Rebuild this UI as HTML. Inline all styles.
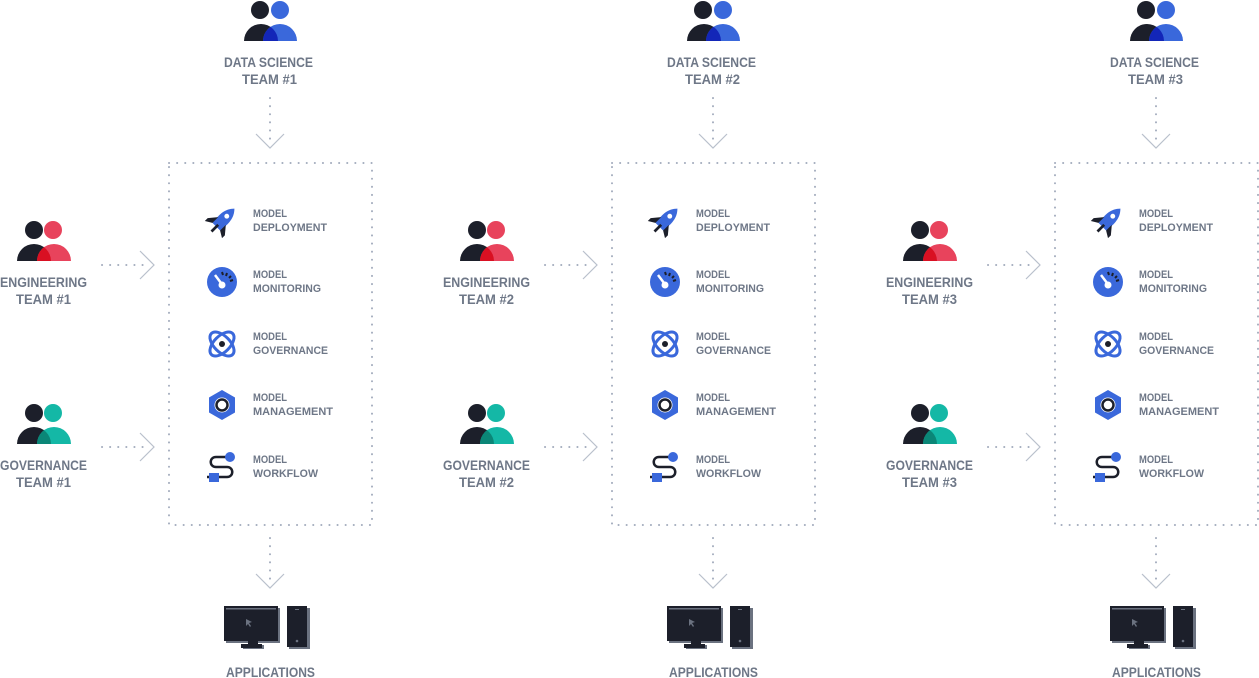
<!DOCTYPE html>
<html><head><meta charset="utf-8"><style>
html,body{margin:0;padding:0;background:#fff;width:1259px;height:678px;overflow:hidden}
svg{display:block}
text{font-family:"Liberation Sans",sans-serif;font-weight:bold;fill:#6e7787}
.lb{font-size:13.5px}
.it{font-size:11px}
.dot{stroke:#a3acbd;stroke-width:2;stroke-dasharray:0.1 8;stroke-linecap:round;fill:none}
.chev{stroke:#b9c0cc;stroke-width:1.2;fill:none}
</style></head><body>
<svg width="1259" height="678" viewBox="0 0 1259 678" xmlns="http://www.w3.org/2000/svg">
<defs>
<clipPath id="cl1"><path d="M244,41 A17,17 0 0 1 278,41 Z"/></clipPath>
<clipPath id="cl2"><path d="M17,261 A17,17 0 0 1 51,261 Z"/></clipPath>
<clipPath id="cl3"><path d="M17,444 A17,17 0 0 1 51,444 Z"/></clipPath>
<g id="panel">
  <circle cx="260" cy="10" r="9" fill="#1c1f2a"/>
  <circle cx="280" cy="10" r="9" fill="#3a68db"/>
  <path d="M244,41 A17,17 0 0 1 278,41 Z" fill="#1c1f2a"/>
  <path d="M263,41 A17,17 0 0 1 297,41 Z" fill="#3a68db"/>
  <path d="M263,41 A17,17 0 0 1 297,41 Z" fill="#1326b8" clip-path="url(#cl1)"/>
  <text class="lb" x="224" y="67" textLength="89" lengthAdjust="spacingAndGlyphs">DATA SCIENCE</text>
  <line class="dot" x1="270" y1="98" x2="270" y2="142"/>
  <polyline class="chev" points="256,134 270,148 284,134"/>
  <rect class="dot" x="169" y="163" width="203" height="362"/>
  <circle cx="34" cy="230" r="9" fill="#1c1f2a"/>
  <circle cx="53" cy="230" r="9" fill="#e8435c"/>
  <path d="M17,261 A17,17 0 0 1 51,261 Z" fill="#1c1f2a"/>
  <path d="M37,261 A17,17 0 0 1 71,261 Z" fill="#e8435c"/>
  <path d="M37,261 A17,17 0 0 1 71,261 Z" fill="#d91022" clip-path="url(#cl2)"/>
  <text class="lb" x="0" y="287" textLength="87" lengthAdjust="spacingAndGlyphs">ENGINEERING</text>
  <line class="dot" x1="102" y1="265" x2="146" y2="265"/>
  <polyline class="chev" points="140,251 154,265 140,279"/>
  <circle cx="34" cy="413" r="9" fill="#1c1f2a"/>
  <circle cx="53" cy="413" r="9" fill="#14b8a6"/>
  <path d="M17,444 A17,17 0 0 1 51,444 Z" fill="#1c1f2a"/>
  <path d="M37,444 A17,17 0 0 1 71,444 Z" fill="#14b8a6"/>
  <path d="M37,444 A17,17 0 0 1 71,444 Z" fill="#0b8677" clip-path="url(#cl3)"/>
  <text class="lb" x="0" y="470" textLength="87" lengthAdjust="spacingAndGlyphs">GOVERNANCE</text>
  <line class="dot" x1="102" y1="447" x2="146" y2="447"/>
  <polyline class="chev" points="140,433 154,447 140,461"/>
  <!-- rocket -->
  <g transform="translate(222,221) rotate(45) scale(1.35)">
    <path d="M0,-13 C5,-8 5,-2 4,6 L-4,6 C-5,-2 -5,-8 0,-13 Z" fill="#3a68db"/>
    <circle cx="0" cy="-5" r="1.8" fill="#fff"/>
    <path d="M-4,0 L-9,6 L-9,9 L-4,6 Z M4,0 L9,6 L9,9 L4,6 Z" fill="#1c1f2a"/>
    <rect x="-1" y="4" width="2" height="7" fill="#1c1f2a"/>
  </g>
  <text class="it" x="253" y="217" textLength="34" lengthAdjust="spacingAndGlyphs">MODEL</text>
  <text class="it" x="253" y="231" textLength="74" lengthAdjust="spacingAndGlyphs">DEPLOYMENT</text>
  <!-- gauge -->
  <circle cx="222" cy="282" r="15" fill="#3a68db"/>
  <path d="M215,275 L221,283" stroke="#fff" stroke-width="2.5"/>
  <circle cx="222" cy="285" r="3.5" fill="#fff"/>
  <path d="M222,272 L223,275 M227,273 L226,276 M231,276 L229,278 M233,280 L230,281" stroke="#1c1f2a" stroke-width="2"/>
  <text class="it" x="253" y="278" textLength="34" lengthAdjust="spacingAndGlyphs">MODEL</text>
  <text class="it" x="253" y="292" textLength="68" lengthAdjust="spacingAndGlyphs">MONITORING</text>
  <!-- atom -->
  <ellipse cx="222" cy="344" rx="15" ry="8" transform="rotate(45 222 344)" fill="none" stroke="#3a68db" stroke-width="3"/>
  <ellipse cx="222" cy="344" rx="15" ry="8" transform="rotate(-45 222 344)" fill="none" stroke="#3a68db" stroke-width="3"/>
  <circle cx="222" cy="344" r="3" fill="#1c1f2a"/>
  <text class="it" x="253" y="340" textLength="34" lengthAdjust="spacingAndGlyphs">MODEL</text>
  <text class="it" x="253" y="354" textLength="75" lengthAdjust="spacingAndGlyphs">GOVERNANCE</text>
  <!-- hexagon -->
  <polygon points="222,390 235,397.5 235,412.5 222,420 209,412.5 209,397.5" fill="#3a68db"/>
  <circle cx="222" cy="405" r="7.5" fill="#fff"/>
  <circle cx="222" cy="405" r="5.5" fill="none" stroke="#1c1f2a" stroke-width="2.5"/>
  <text class="it" x="253" y="401" textLength="34" lengthAdjust="spacingAndGlyphs">MODEL</text>
  <text class="it" x="253" y="415" textLength="80" lengthAdjust="spacingAndGlyphs">MANAGEMENT</text>
  <!-- workflow -->
  <path d="M230,457 L216,457 C209,457 209,467 216,467 L227,467 C234,467 234,477 227,477 L207,477" fill="none" stroke="#1c1f2a" stroke-width="2.5"/>
  <circle cx="230" cy="457" r="5" fill="#3a68db"/>
  <rect x="209" y="473" width="10" height="9" fill="#3a68db"/>
  <text class="it" x="253" y="463" textLength="34" lengthAdjust="spacingAndGlyphs">MODEL</text>
  <text class="it" x="253" y="477" textLength="65" lengthAdjust="spacingAndGlyphs">WORKFLOW</text>
  <line class="dot" x1="270" y1="538" x2="270" y2="580"/>
  <polyline class="chev" points="256,574 270,588 284,574"/>
  <rect x="226" y="608" width="54" height="35" fill="#6b7280"/>
  <rect x="224" y="606" width="54" height="35" fill="#1c1f2a"/>
  <rect x="226" y="608" width="50" height="1.5" fill="#6b7280"/>
  <path d="M246,619 L246,626 L248,624 L250,627 L251,626 L249,623 L252,622 Z" fill="#6b7280"/>
  <rect x="243" y="645" width="21" height="4" fill="#6b7280"/>
  <rect x="248" y="641" width="10" height="4" fill="#1c1f2a"/>
  <rect x="241" y="644" width="21" height="4" fill="#1c1f2a"/>
  <rect x="289" y="608" width="21" height="41" fill="#6b7280"/>
  <rect x="287" y="606" width="20" height="41" fill="#1c1f2a"/>
  <rect x="295" y="609" width="4" height="1" fill="#6b7280"/>
  <circle cx="297" cy="641" r="1.3" fill="#6b7280"/>
  <text class="lb" x="226" y="677" textLength="89" lengthAdjust="spacingAndGlyphs">APPLICATIONS</text>
</g>
</defs>
<use href="#panel" x="0" y="0"/>
<use href="#panel" x="443" y="0"/>
<use href="#panel" x="886" y="0"/>
<text class="lb" x="242" y="84" textLength="55" lengthAdjust="spacingAndGlyphs">TEAM #1</text>
<text class="lb" x="685" y="84" textLength="55" lengthAdjust="spacingAndGlyphs">TEAM #2</text>
<text class="lb" x="1128" y="84" textLength="55" lengthAdjust="spacingAndGlyphs">TEAM #3</text>
<text class="lb" x="16" y="304" textLength="55" lengthAdjust="spacingAndGlyphs">TEAM #1</text>
<text class="lb" x="459" y="304" textLength="55" lengthAdjust="spacingAndGlyphs">TEAM #2</text>
<text class="lb" x="902" y="304" textLength="55" lengthAdjust="spacingAndGlyphs">TEAM #3</text>
<text class="lb" x="16" y="487" textLength="55" lengthAdjust="spacingAndGlyphs">TEAM #1</text>
<text class="lb" x="459" y="487" textLength="55" lengthAdjust="spacingAndGlyphs">TEAM #2</text>
<text class="lb" x="902" y="487" textLength="55" lengthAdjust="spacingAndGlyphs">TEAM #3</text>
</svg>
</body></html>
